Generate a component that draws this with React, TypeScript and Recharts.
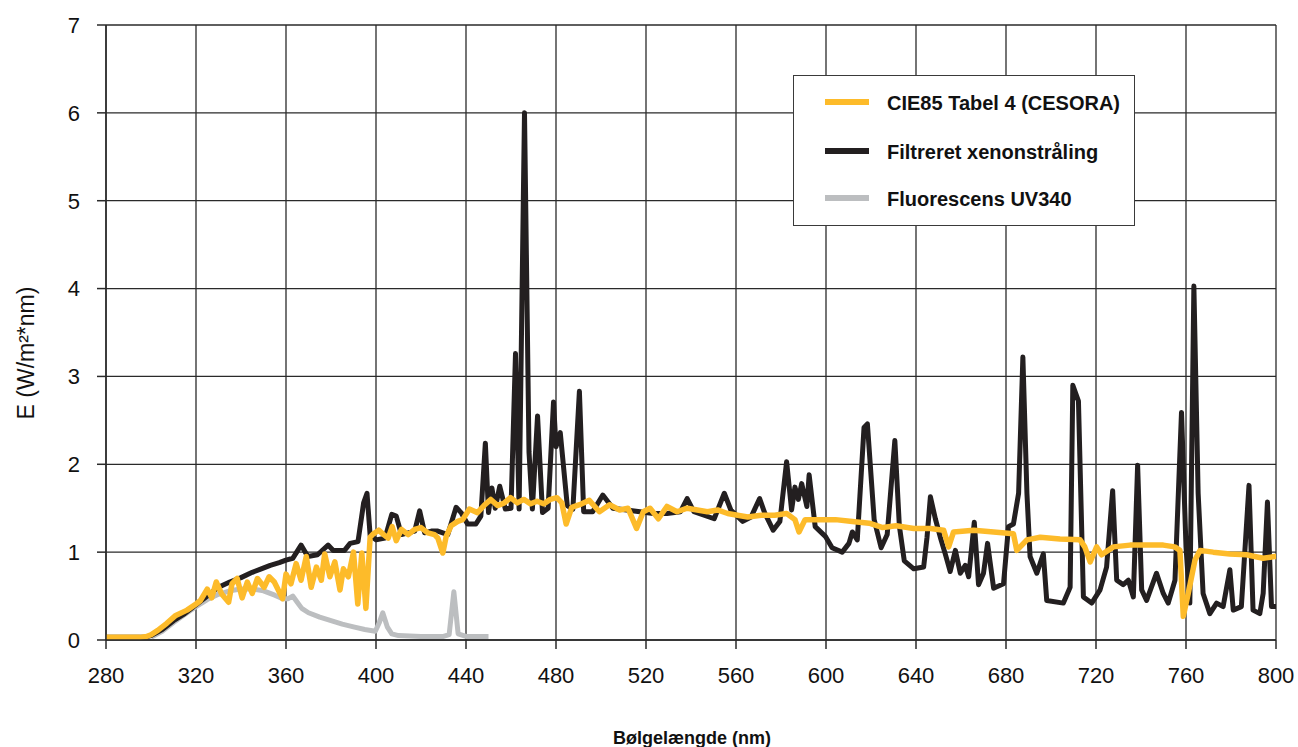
import React from 'react';
import { LineChart, Line, XAxis, YAxis, CartesianGrid, Legend, Label } from 'recharts';

// Wavelength ticks and value ticks
const xTicks = [280, 320, 360, 400, 440, 480, 520, 560, 600, 640, 680, 720, 760, 800];
const yTicks = [0, 1, 2, 3, 4, 5, 6, 7];

// CIE85 Tabel 4 (CESORA)
const cieWavelengths = [280, 285, 290, 295, 298, 300, 303, 307, 311, 316, 320, 322, 325, 327, 329, 331.5, 334.5, 336, 338.3, 340.5, 342.8, 345, 347.3, 350.3, 352.5, 354.8, 358.5, 360, 362.2, 364.5, 366.7, 369, 371.2, 373.5, 375.7, 377.2, 379.5, 381.7, 384, 385.5, 387.7, 390, 391.9, 393.7, 395.5, 397.4, 398.9, 401.2, 403.4, 405.4, 407.2, 409, 411.3, 414.3, 417.2, 420, 423, 426, 427.5, 429.7, 431.2, 433.4, 436.3, 438.5, 441.5, 445.1, 448, 451, 454, 457, 459.8, 462.8, 465.7, 468.7, 471.6, 474.5, 477.5, 480.4, 482.6, 484.5, 487, 490.5, 494.8, 499.3, 503.8, 508.3, 512, 515.8, 518.8, 521.8, 525.5, 529.3, 533.8, 538.3, 542.8, 547.3, 551.8, 556.3, 560.7, 565.2, 571.2, 577.2, 582.5, 586.2, 588, 590.7, 596.7, 604.2, 611.7, 619.2, 625.2, 631.2, 639, 646.4, 652.3, 654.5, 656.7, 665.6, 674.5, 683.3, 684.8, 689.3, 695.2, 704, 712.9, 715, 717.4, 720.3, 722.5, 727.7, 735.1, 742.5, 749.9, 755, 757.3, 758.8, 761, 764, 766.2, 772.1, 779.5, 786.9, 794.3, 799.4, 800];
const cieValues = [0.03, 0.03, 0.03, 0.03, 0.04, 0.06, 0.11, 0.19, 0.28, 0.34, 0.41, 0.45, 0.58, 0.48, 0.66, 0.52, 0.43, 0.64, 0.7, 0.48, 0.66, 0.53, 0.7, 0.6, 0.72, 0.66, 0.47, 0.75, 0.64, 0.87, 0.68, 0.95, 0.6, 0.83, 0.68, 0.98, 0.72, 0.89, 0.57, 0.81, 0.72, 1.0, 0.41, 0.99, 0.36, 1.17, 1.21, 1.25, 1.2, 1.16, 1.29, 1.13, 1.26, 1.2, 1.26, 1.28, 1.22, 1.2, 1.16, 0.99, 1.18, 1.3, 1.35, 1.37, 1.49, 1.45, 1.53, 1.6, 1.53, 1.56, 1.62, 1.56, 1.6, 1.55, 1.58, 1.55, 1.6, 1.62, 1.56, 1.32, 1.51, 1.54, 1.59, 1.46, 1.54, 1.48, 1.5, 1.27, 1.46, 1.5, 1.38, 1.52, 1.46, 1.5, 1.48, 1.46, 1.48, 1.44, 1.42, 1.4, 1.42, 1.42, 1.44, 1.37, 1.23, 1.37, 1.37, 1.37, 1.35, 1.33, 1.28, 1.3, 1.27, 1.27, 1.25, 1.06, 1.23, 1.25, 1.23, 1.21, 1.02, 1.14, 1.17, 1.15, 1.14, 1.06, 0.89, 1.06, 0.97, 1.06, 1.08, 1.08, 1.08, 1.06, 1.02, 0.27, 0.53, 0.91, 1.02, 1.0, 0.98, 0.97, 0.93, 0.95, 0.95];

// Filtreret xenonstråling
const xenonWavelengths = [280, 290, 297, 300, 305, 310, 315, 320, 325, 330, 335, 340, 345, 349, 353, 357, 360, 363, 366.7, 369.7, 374, 378.7, 381, 386, 388.5, 392, 394.5, 396, 397.4, 400, 404, 407, 409, 411.3, 414.3, 417.2, 419.4, 421.6, 424.6, 427.5, 429.7, 431.9, 435.6, 437.8, 440.7, 444.4, 446.6, 448.6, 450, 451.5, 453, 455, 457.5, 460, 462, 463.6, 466, 468, 469.5, 471.8, 474, 476.5, 478.9, 480, 481.9, 485, 487.5, 490.4, 492.3, 496.3, 500.8, 505.3, 511.3, 517.3, 523.3, 529.3, 535.3, 538.3, 541.3, 545.8, 550.3, 554.8, 557.7, 563, 566.7, 570.5, 572.7, 576.5, 579.5, 582.5, 584.7, 586.2, 587.7, 589.2, 591.5, 592.5, 595.2, 599.7, 602.7, 607.2, 610.2, 611.7, 613.9, 616.9, 618.4, 621.4, 624.5, 627.2, 630.6, 632.6, 634.8, 639, 643.4, 644.9, 646.4, 648.6, 650.8, 653, 655.2, 657.5, 659.7, 661.9, 663.4, 665.9, 667.8, 670, 671.8, 674.5, 678.9, 681.1, 683.3, 685.6, 687.5, 689.3, 690.7, 693.7, 696.6, 698.1, 705.5, 708.5, 709.7, 712.2, 714.4, 718.1, 721.8, 724.7, 727.4, 729.2, 732.1, 734.4, 736.6, 738.5, 740.3, 742.5, 746.9, 749.9, 752.1, 755.1, 758, 760, 761.7, 763.5, 765.4, 767.6, 770.6, 773.6, 776.5, 779.5, 781, 784.6, 788, 789.8, 792.8, 794.3, 796.2, 798, 800];
const xenonValues = [0.03, 0.03, 0.03, 0.05, 0.12, 0.22, 0.3, 0.4, 0.5, 0.6, 0.66, 0.71, 0.77, 0.81, 0.85, 0.88, 0.91, 0.93, 1.08, 0.95, 0.97, 1.08, 1.02, 1.02, 1.1, 1.12, 1.56, 1.67, 1.19, 1.14, 1.16, 1.43, 1.41, 1.2, 1.22, 1.24, 1.47, 1.22, 1.24, 1.24, 1.22, 1.2, 1.51, 1.45, 1.32, 1.32, 1.41, 2.24, 1.45, 1.73, 1.5, 1.75, 1.49, 1.5, 3.26, 1.49, 6.0, 2.14, 1.49, 2.55, 1.45, 1.5, 2.71, 2.2, 2.36, 1.53, 1.49, 2.83, 1.46, 1.46, 1.65, 1.5, 1.48, 1.46, 1.44, 1.44, 1.46, 1.61, 1.46, 1.42, 1.38, 1.67, 1.48, 1.35, 1.4, 1.61, 1.45, 1.25, 1.35, 2.03, 1.48, 1.74, 1.6, 1.78, 1.52, 1.88, 1.29, 1.18, 1.05, 1.0, 1.1, 1.23, 1.14, 2.42, 2.46, 1.37, 1.05, 1.2, 2.27, 1.3, 0.9, 0.81, 0.83, 1.17, 1.63, 1.38, 1.17, 0.98, 0.78, 1.02, 0.76, 0.85, 0.72, 1.34, 0.63, 0.76, 1.1, 0.59, 0.64, 1.29, 1.32, 1.67, 3.22, 1.67, 0.95, 0.76, 0.98, 0.45, 0.42, 0.6, 2.9, 2.72, 0.49, 0.42, 0.57, 0.83, 1.7, 0.68, 0.63, 0.68, 0.49, 1.99, 0.57, 0.45, 0.76, 0.53, 0.42, 0.68, 2.59, 1.06, 0.42, 4.03, 1.67, 0.53, 0.3, 0.42, 0.38, 0.8, 0.34, 0.38, 1.76, 0.34, 0.3, 0.53, 1.57, 0.38, 0.38];

// Fluorescens UV340
const uvWavelengths = [300, 305, 310, 315, 320, 325, 330, 335, 340, 345, 350, 355, 358.5, 361, 363, 365, 367, 370, 375, 380, 385, 390, 395, 399.7, 401.5, 403, 405, 407, 410, 420, 430, 432.5, 434.6, 436.5, 440, 450];
const uvValues = [0.03, 0.1, 0.2, 0.29, 0.38, 0.46, 0.52, 0.56, 0.58, 0.58, 0.56, 0.51, 0.47, 0.47, 0.5, 0.43, 0.36, 0.31, 0.26, 0.22, 0.18, 0.15, 0.12, 0.1, 0.2, 0.31, 0.15, 0.07, 0.05, 0.04, 0.04, 0.06, 0.55, 0.07, 0.04, 0.04];

const seriesNames = ['CIE85 Tabel 4 (CESORA)', 'Filtreret xenonstråling', 'Fluorescens UV340'];
const seriesColors = ['#FDBB2A', '#231F20', '#BCBEC0'];

const toData = (xs: number[], ys: number[]) => xs.map((x, i) => ({ x, y: ys[i] }));
const cieData = toData(cieWavelengths, cieValues);
const xenonData = toData(xenonWavelengths, xenonValues);
const uvData = toData(uvWavelengths, uvValues);

const FONT = '"Liberation Sans", Arial, Helvetica, sans-serif';
const AXIS = '#2a2a2a';

const LegendBox = () => (
  <div
    style={{
      position: 'relative',
      width: 342,
      height: 151,
      boxSizing: 'border-box',
      border: '1.5px solid #3a3a3a',
      background: '#fff',
      fontFamily: FONT,
    }}
  >
    {seriesNames.map((name, i) => {
      const cy = [26, 75, 122][i];
      return (
        <React.Fragment key={name}>
          <div
            style={{
              position: 'absolute',
              left: 31,
              top: cy - 3,
              width: 44,
              height: 6,
              background: seriesColors[i],
            }}
          />
          <div
            style={{
              position: 'absolute',
              left: 93,
              top: cy - 12,
              fontSize: 20,
              fontWeight: 'bold',
              lineHeight: '26px',
              color: '#111',
              whiteSpace: 'nowrap',
            }}
          >
            {name}
          </div>
        </React.Fragment>
      );
    })}
  </div>
);

export default function App() {
  return (
    <div style={{ position: 'absolute', left: 0, top: 0, background: '#fff' }}>
      <LineChart
        width={1298}
        height={747}
        margin={{ top: 25, right: 22, bottom: 0, left: 0 }}
        style={{ fontFamily: FONT }}
      >
        <CartesianGrid stroke={AXIS} strokeWidth={1.3} horizontal vertical />
        <XAxis
          dataKey="x"
          type="number"
          domain={[280, 800]}
          ticks={xTicks}
          allowDataOverflow
          height={107}
          tickSize={9}
          tickMargin={18}
          axisLine={{ stroke: AXIS, strokeWidth: 1.5 }}
          tickLine={{ stroke: AXIS, strokeWidth: 1.5 }}
          tick={{ fill: '#111', fontSize: 22, fontFamily: FONT }}
        >
          <Label
            content={() => (
              <text
                x={692}
                y={744}
                textAnchor="middle"
                fontSize={18}
                fontWeight="bold"
                fontFamily={FONT}
                fill="#111"
              >
                Bølgelængde (nm)
              </text>
            )}
          />
        </XAxis>
        <YAxis
          type="number"
          domain={[0, 7]}
          ticks={yTicks}
          width={106}
          tickSize={9}
          tickMargin={17}
          axisLine={{ stroke: AXIS, strokeWidth: 1.5 }}
          tickLine={{ stroke: AXIS, strokeWidth: 1.5 }}
          tick={{ fill: '#111', fontSize: 22, fontFamily: FONT }}
        >
          <Label
            content={() => (
              <text
                x={26}
                y={353}
                transform="rotate(-90, 26, 353)"
                textAnchor="middle"
                dominantBaseline="central"
                fontSize={23}
                fontFamily={FONT}
                fill="#111"
              >
                E (W/m²*nm)
              </text>
            )}
          />
        </YAxis>
        <Legend
          layout="horizontal"
          align="center"
          verticalAlign="middle"
          wrapperStyle={{ left: 793, top: 75, width: 342, height: 151 }}
          content={() => <LegendBox />}
        />
        <Line
          data={uvData}
          dataKey="y"
          name={seriesNames[2]}
          stroke={seriesColors[2]}
          strokeWidth={5}
          dot={false}
          activeDot={false}
          strokeLinejoin="round"
          isAnimationActive={false}
        />
        <Line
          data={xenonData}
          dataKey="y"
          name={seriesNames[1]}
          stroke={seriesColors[1]}
          strokeWidth={5}
          dot={false}
          activeDot={false}
          strokeLinejoin="round"
          isAnimationActive={false}
        />
        <Line
          data={cieData}
          dataKey="y"
          name={seriesNames[0]}
          stroke={seriesColors[0]}
          strokeWidth={5.5}
          dot={false}
          activeDot={false}
          strokeLinejoin="round"
          isAnimationActive={false}
        />
      </LineChart>
    </div>
  );
}
